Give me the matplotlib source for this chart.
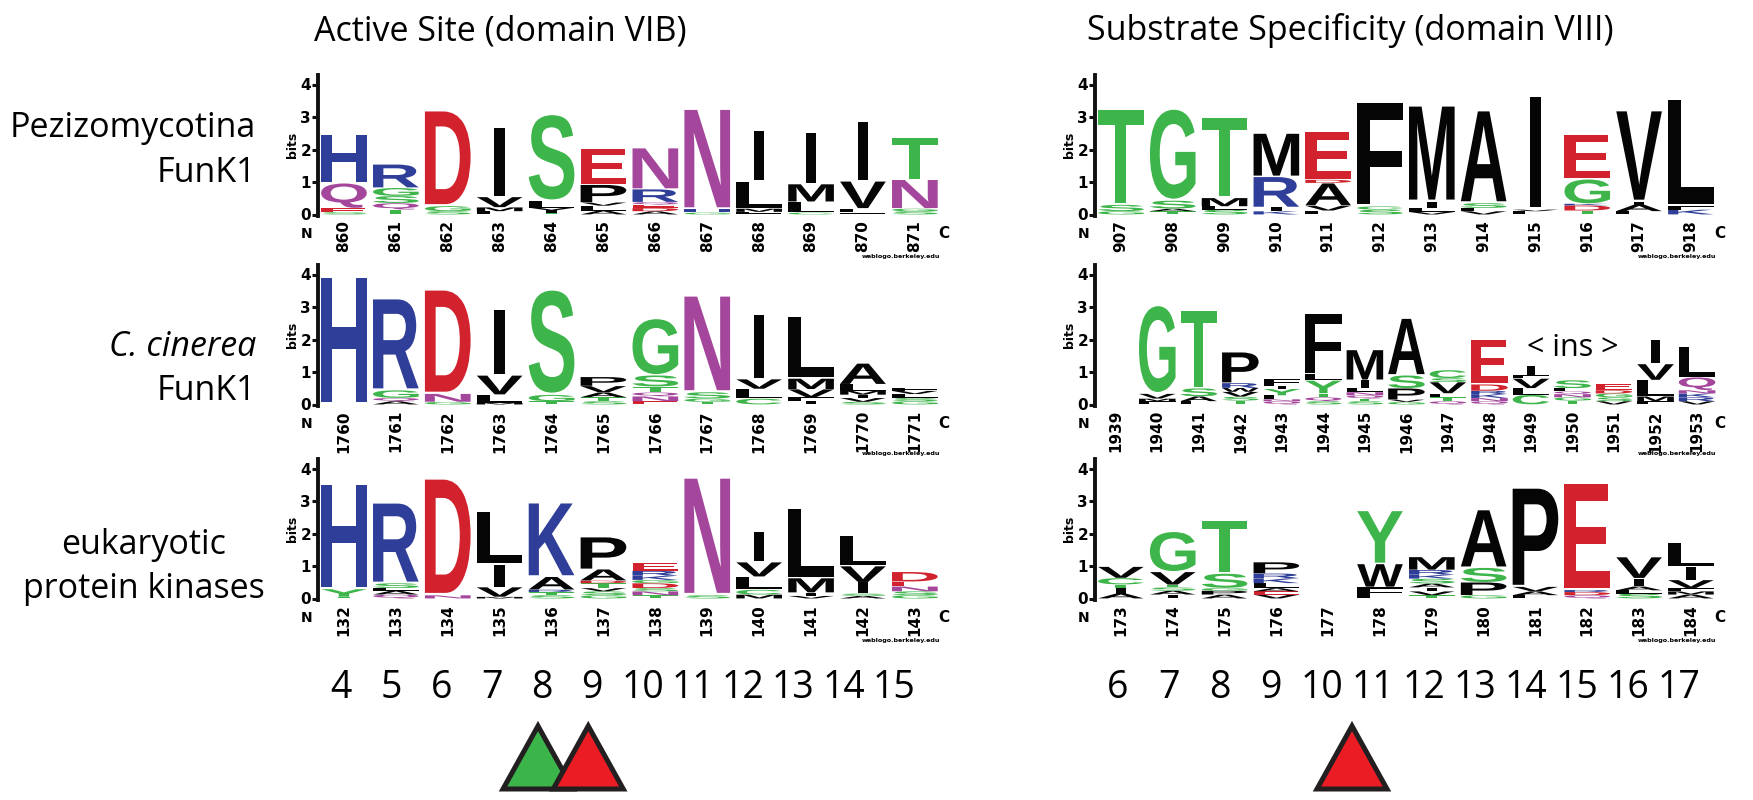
import matplotlib
matplotlib.use('Agg')
import matplotlib.pyplot as plt
from matplotlib.textpath import TextPath
from matplotlib.font_manager import FontProperties
from matplotlib.patches import PathPatch, Polygon
from matplotlib.transforms import Affine2D

W, H = 1753, 800

# ---------------- data ----------------
left_title = "Active Site (domain VIB)"
right_title = "Substrate Specificity (domain VIII)"

pez_site_pos = list(range(860, 872))
pez_site = [
    [('S', .07), ('E', .12), ('Q', .78), ('H', 1.52)],
    [('T', .15), ('Q', .2), ('S', .22), ('G', .25), ('R', .73)],
    [('S', .1), ('G', .16), ('D', 2.97)],
    [('L', .1), ('M', .12), ('V', .32), ('I', 2.15)],
    [('T', .05), ('I', .08), ('V', .08), ('L', .2), ('S', 2.7)],
    [('A', .12), ('L', .15), ('V', .1), ('P', .55), ('E', 1.12)],
    [('A', .1), ('D', .1), ('E', .1), ('Q', .08), ('R', .4), ('N', 1.28)],
    [('G', .06), ('H', .1), ('N', 3.12)],
    [('F', .08), ('M', .1), ('L', .85), ('I', 1.56)],
    [('C', .06), ('L', .33), ('M', .55), ('I', 1.6)],
    [('F', .06), ('L', .12), ('V', .85), ('I', 1.85)],
    [('S', .1), ('G', .08), ('N', .9), ('T', 1.3)],
]

cci_site_pos = list(range(1760, 1772))
cci_site = [
    [('H', 3.98)],
    [('A', .1), ('Q', .1), ('G', .24), ('R', 2.85)],
    [('G', .08), ('N', .25), ('D', 3.24)],
    [('M', .05), ('L', .25), ('V', .6), ('I', 2.06)],
    [('T', .1), ('G', .2), ('S', 3.27)],
    [('S', .1), ('T', .12), ('A', .15), ('V', .2), ('P', .28)],
    [('E', .1), ('N', .15), ('Q', .12), ('T', .18), ('S', .35), ('G', 1.76)],
    [('T', .08), ('G', .1), ('S', .2), ('N', 3.0)],
    [('C', .18), ('L', .3), ('V', .3), ('I', 2.0)],
    [('I', .12), ('F', .1), ('V', .25), ('M', .33), ('L', 1.94)],
    [('S', .08), ('V', .12), ('I', .1), ('M', .12), ('L', .2), ('A', .65)],
    [('G', .1), ('S', .1), ('L', .12), ('V', .1), ('F', .1)],
]

epk_site_pos = list(range(132, 144))
epk_site = [
    [('T', .05), ('Y', .24), ('H', 3.26)],
    [('Q', .12), ('A', .12), ('L', .08), ('S', .15), ('R', 2.5)],
    [('N', .1), ('D', 3.63)],
    [('M', .05), ('V', .3), ('I', .7), ('L', 1.66)],
    [('S', .1), ('T', .1), ('R', .07), ('A', .4), ('K', 2.3)],
    [('G', .1), ('S', .12), ('V', .1), ('T', .15), ('D', .08), ('A', .35), ('P', 1.0)],
    [('T', .1), ('N', .12), ('S', .1), ('D', .15), ('G', .1), ('K', .13), ('R', .15), ('E', .25)],
    [('S', .1), ('N', 3.66)],
    [('M', .12), ('C', .15), ('L', .4), ('V', .45), ('I', .95)],
    [('V', .08), ('I', .1), ('M', .45), ('L', 2.17)],
    [('A', .08), ('S', .07), ('I', .35), ('V', .5), ('L', .95)],
    [('G', .1), ('S', .12), ('N', .15), ('E', .15), ('D', .3)],
]

pez_spec_pos = list(range(907, 919))
pez_spec = [
    [('G', .1), ('S', .2), ('T', 2.98)],
    [('T', .1), ('A', .08), ('S', .25), ('G', 2.85)],
    [('S', .15), ('L', .1), ('M', .26), ('T', 2.52)],
    [('K', .1), ('I', .12), ('R', .95), ('M', 1.34)],
    [('L', .12), ('V', .15), ('A', .7), ('D', .1), ('E', 1.49)],
    [('S', .15), ('C', .1), ('F', 3.24)],
    [('V', .08), ('L', .12), ('I', .2), ('M', 2.98)],
    [('V', .1), ('L', .1), ('S', .15), ('A', 2.88)],
    [('L', .1), ('V', .05), ('I', 3.54)],
    [('T', .12), ('D', .16), ('K', .05), ('G', .76), ('E', 1.37)],
    [('L', .1), ('A', .2), ('I', .1), ('V', 2.83)],
    [('K', .15), ('F', .1), ('L', 3.34)],
]

cci_spec_pos = list(range(1939, 1954))
cci_spec = [
    [],
    [('F', .1), ('M', .08), ('V', .15), ('G', 2.75)],
    [('L', .1), ('A', .15), ('S', .25), ('T', 2.42)],
    [('T', .12), ('S', .12), ('V', .15), ('W', .12), ('R', .15), ('P', .96)],
    [('Q', .1), ('N', .06), ('L', .12), ('Y', .2), ('I', .1), ('F', .2)],
    [('S', .1), ('Q', .12), ('T', .12), ('Y', .4), ('L', .2), ('F', 1.88)],
    [('S', .1), ('T', .08), ('Q', .1), ('N', .1), ('L', .12), ('I', .25), ('M', .94)],
    [('G', .08), ('V', .07), ('P', .35), ('S', .4), ('A', 1.77)],
    [('Q', .1), ('T', .12), ('L', .12), ('V', .35), ('S', .12), ('C', .25)],
    [('Q', .1), ('N', .1), ('K', .12), ('R', .1), ('D', .2), ('E', 1.4)],
    [('C', .3), ('L', .2), ('V', .3), ('F', .1), ('I', .3)],
    [('T', .12), ('G', .1), ('N', .1), ('Q', .08), ('L', .1), ('S', .25)],
    [('V', .1), ('S', .12), ('G', .12), ('D', .1), ('E', .2)],
    [('F', .1), ('M', .15), ('L', .5), ('V', .5), ('I', .75)],
    [('V', .1), ('R', .12), ('K', .12), ('N', .1), ('Q', .4), ('L', .95)],
]
cci_spec_insert_label = "< ins >"
cci_spec_insert_at = 1950

epk_spec_pos = list(range(173, 185))
epk_spec = [
    [('A', .15), ('I', .18), ('T', .1), ('C', .2), ('V', .35)],
    [('I', .12), ('A', .12), ('S', .1), ('T', .08), ('V', .4), ('G', 1.25)],
    [('A', .12), ('P', .12), ('G', .08), ('S', .45), ('T', 1.65)],
    [('V', .12), ('E', .1), ('A', .1), ('L', .15), ('K', .15), ('R', .15), ('P', .35)],
    [],
    [('L', .05), ('F', .3), ('W', .72), ('Y', 1.65)],
    [('T', .1), ('V', .12), ('I', .12), ('A', .12), ('S', .15), ('K', .12), ('R', .15), ('M', .4)],
    [('G', .1), ('P', .4), ('S', .45), ('A', 1.8)],
    [('L', .1), ('A', .12), ('V', .14), ('P', 3.08)],
    [('Q', .1), ('D', .1), ('R', .06), ('E', 3.33)],
    [('S', .15), ('L', .1), ('A', .12), ('I', .25), ('V', .66)],
    [('A', .12), ('M', .1), ('F', .1), ('V', .25), ('I', .4), ('L', .75)],
]

row_labels = [
    [("Pezizomycotina", 'normal'), ("FunK1", 'normal')],
    [("C. cinerea", 'italic'), ("FunK1", 'normal')],
    [("eukaryotic", 'normal'), ("protein kinases", 'normal')],
]

left_numbers = list(range(4, 16))
right_numbers = list(range(6, 18))
left_marks = [(8, 'green'), (9, 'red')]
right_marks = [(10, 'red')]

# ---------------- style ----------------
COL = {}
for c in 'GSTYC':
    COL[c] = '#3db54a'
for c in 'NQ':
    COL[c] = '#a4479c'
for c in 'KRH':
    COL[c] = '#2f3e98'
for c in 'DE':
    COL[c] = '#d1222d'
for c in 'AVLIPWFM':
    COL[c] = '#050505'
MARK_COL = {'green': '#3bb44a', 'red': '#ec1c24'}

LFONT = FontProperties(family='Liberation Sans', weight='bold')
LABEL_FAMILY = ['Open Sans', 'DejaVu Sans']
TICK_FAMILY = ['Liberation Sans Narrow', 'DejaVu Sans']

_glyph_cache = {}


def glyph(ch):
    if ch not in _glyph_cache:
        p = TextPath((0, 0), ch, size=1, prop=LFONT)
        _glyph_cache[ch] = (p, p.get_extents())
    return _glyph_cache[ch]


def draw_letter(ax, ch, xc, y0, h, w=0.88):
    p, bb = glyph(ch)
    if ch == 'I':
        w = 0.2
    tr = (Affine2D().translate(-bb.x0, -bb.y0)
          .scale(w / bb.width, h / bb.height)
          .translate(xc - w / 2, y0))
    patch = PathPatch(tr.transform_path(p), facecolor=COL[ch], edgecolor='none', lw=0)
    ax.add_patch(patch)


fig = plt.figure(figsize=(W / 100, H / 100), dpi=100)

PX_PER_BIT = 32.5
YMAX = 4.3


def add_px_axes(x0, x1, y_zero):
    top = y_zero - YMAX * PX_PER_BIT
    return fig.add_axes([x0 / W, 1 - y_zero / H, (x1 - x0) / W, (y_zero - top) / H])


def logo(ax, positions, stacks):
    n = len(positions)
    ax.set_xlim(-0.5, n - 0.4)
    ax.set_ylim(0, YMAX)
    for i, stack in enumerate(stacks):
        y = 0.0
        for ch, h in stack:
            if h >= 0.03:
                draw_letter(ax, ch, i, y + h * 0.02, h * 0.96)
            y += h
    for s in ('top', 'right', 'bottom'):
        ax.spines[s].set_visible(False)
    ax.spines['left'].set_linewidth(2.8)
    ax.spines['left'].set_bounds(-0.05, 4.28)
    ax.spines['left'].set_color('#111111')
    ax.set_yticks([0, 1, 2, 3, 4])
    ax.set_yticklabels(['0', '1', '2', '3', '4'], fontsize=11, fontweight='bold',
                       family=TICK_FAMILY)
    ax.set_xticks(range(n))
    ax.set_xticklabels([str(p) for p in positions], rotation=90, fontsize=11,
                       fontweight='bold', family=TICK_FAMILY)
    ax.tick_params(axis='x', length=0, pad=4)
    ax.tick_params(axis='y', length=4, width=2.2, pad=1, color='#111111')
    ax.set_ylabel('bits', fontsize=9, fontweight='bold', labelpad=1, family=TICK_FAMILY)
    ax.patch.set_alpha(0)
    ax.annotate('N', xy=(0, 0), xycoords='axes fraction', xytext=(-11, -19),
                textcoords='offset pixels', ha='center', va='center',
                fontsize=10, fontweight='bold', family=TICK_FAMILY)
    ax.annotate('C', xy=(1, 0), xycoords='axes fraction', xytext=(-2, -19),
                textcoords='offset pixels', ha='center', va='center',
                fontsize=11, fontweight='bold', family=TICK_FAMILY)
    ndig = max(len(str(p)) for p in positions)
    ax.annotate('weblogo.berkeley.edu', xy=(1, 0), xycoords='axes fraction',
                xytext=(-6, -(21 + 7 * ndig)), textcoords='offset pixels', ha='right',
                va='center', fontsize=4.6, fontweight='bold', family=TICK_FAMILY)


Y_ZERO = [214.5, 404.5, 598.5]
LEFT_X = (318, 946)
RIGHT_X = (1095, 1722)

left_sets = [(pez_site_pos, pez_site), (cci_site_pos, cci_site), (epk_site_pos, epk_site)]
right_sets = [(pez_spec_pos, pez_spec), (cci_spec_pos, cci_spec), (epk_spec_pos, epk_spec)]

axes_right = []
for r in range(3):
    axl = add_px_axes(*LEFT_X, Y_ZERO[r])
    logo(axl, *left_sets[r])
    axr = add_px_axes(*RIGHT_X, Y_ZERO[r])
    logo(axr, *right_sets[r])
    axes_right.append(axr)

# insertion label in C. cinerea specificity logo
axes_right[1].text(cci_spec_pos.index(cci_spec_insert_at), 1.74, cci_spec_insert_label,
                   ha='center', va='center', fontsize=22, family=LABEL_FAMILY)

# ---------------- overlay (pixel coordinates) ----------------
ov = fig.add_axes([0, 0, 1, 1], zorder=-1)
ov.set_xlim(0, W)
ov.set_ylim(H, 0)
ov.axis('off')

ov.text(500, 31, left_title, ha='center', va='center', fontsize=24.5, family=LABEL_FAMILY)
ov.text(1350, 31, right_title, ha='center', va='center', fontsize=24.5, family=LABEL_FAMILY)

label_rows = [(128, 173), (347, 391), (545, 589)]
for r, (lines, ys) in enumerate(zip(row_labels, label_rows)):
    for (txt, style), y in zip(lines, ys):
        if r < 2:
            ov.text(256, y, txt, ha='right', va='center', fontsize=24.5,
                    style=style, family=LABEL_FAMILY)
        else:
            ov.text(144, y, txt, ha='center', va='center', fontsize=24.5,
                    style=style, family=LABEL_FAMILY)


def left_num_x(k):
    return 341 + 50.25 * (k - left_numbers[0])


def right_num_x(k):
    return 1118 + 51.0 * (k - right_numbers[0])


for k in left_numbers:
    ov.text(left_num_x(k), 688, str(k), ha='center', va='center', fontsize=27,
            family=LABEL_FAMILY)
for k in right_numbers:
    ov.text(right_num_x(k), 688, str(k), ha='center', va='center', fontsize=27,
            family=LABEL_FAMILY)


def triangle(xc, color):
    tri = Polygon([(xc - 35, 789), (xc, 726), (xc + 35, 789)], closed=True,
                  facecolor=MARK_COL[color], edgecolor='#231f20', lw=3.6,
                  joinstyle='miter')
    ov.add_patch(tri)


for k, c in left_marks:
    triangle(left_num_x(k) - 4, c)
for k, c in right_marks:
    triangle(right_num_x(k) + 30, c)

fig.savefig('out.png', dpi=100)
